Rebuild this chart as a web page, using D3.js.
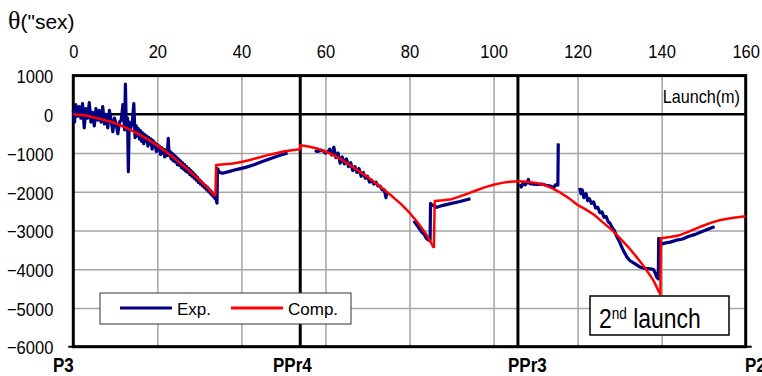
<!DOCTYPE html>
<html lang="en">
<head>
<meta charset="UTF-8">
<title>Launch</title>
<script src="https://d3js.org/d3.v7.min.js"></script>
<style>
  body { margin: 0; background: #fff; }
  text { font-family: "Liberation Sans", Arial, sans-serif; fill: #000; }
</style>
</head>
<body>
<script>

var w = 762, h = 376;

// tick labels
var xTicks = [0, 20, 40, 60, 80, 100, 120, 140, 160];
var yTicks = [1000, 0, -1000, -2000, -3000, -4000, -5000, -6000];

// station markers along the launch
var stations = ["P3", "PPr4", "PPr3", "P2"];
var stationPos = [0, 54, 105.8, 160];

// computed deflection (Comp.), one array per segment
var compX1 = [0, 3, 6, 9, 12, 15, 18, 21, 24, 27, 30, 32, 33.8];
var compY1 = [0, -30, -110, -190, -320, -480, -660, -880, -1130, -1400, -1700, -1900, -2110];
var compX2 = [33.8, 34, 36, 38, 40, 42, 44, 46, 48, 50, 52, 54, 54, 56, 58, 60, 62, 64, 66, 68, 70, 72, 74, 76, 78, 80, 82, 84, 85.8];
var compY2 = [-2110, -1310, -1290, -1270, -1230, -1180, -1120, -1060, -1010, -960, -930, -900, -800, -830, -880, -960, -1060, -1180, -1320, -1470, -1620, -1780, -1950, -2130, -2320, -2540, -2800, -3100, -3450];
var compX3 = [85.8, 86, 88, 90, 92, 94, 96, 98, 100, 102, 104, 105.8, 108, 110, 112, 114, 116, 118, 120, 122, 124, 126, 128, 130, 132, 134, 136, 138, 139.7];
var compY3 = [-3450, -2240, -2220, -2190, -2120, -2040, -1960, -1880, -1820, -1770, -1740, -1727, -1740, -1770, -1820, -1910, -2030, -2170, -2340, -2460, -2600, -2790, -2970, -3190, -3420, -3680, -3960, -4280, -4660];
var compX4 = [139.7, 139.8, 142, 144, 146, 148, 150, 152, 154, 156, 158, 160];
var compY4 = [-4660, -3200, -3170, -3130, -3050, -2960, -2870, -2790, -2730, -2690, -2660, -2630];

// measured deflection (Exp.), one array per segment
var expX1 = [0, 0.3, 0.6, 1, 1.4, 1.8, 2.2, 2.6, 3, 3.4, 3.8, 4.2, 4.6, 5, 5.4, 5.8, 6.2, 6.6, 7, 7.4, 7.8, 8.2, 8.6, 9, 9.4, 9.8, 10.2, 10.6, 11, 11.4, 11.8, 12.2, 12.4, 12.6, 12.9, 13.1, 13.3, 13.7, 14.1, 14.4, 14.7,
    15, 15.25, 15.5, 15.75, 16, 16.25, 16.5, 16.75, 17, 17.25, 17.5, 17.75, 18, 18.25, 18.5, 18.75, 19, 19.25, 19.5, 19.75, 20, 20.25, 20.5, 20.75, 21, 21.25, 21.5, 21.75, 22, 22.25, 22.4, 22.6, 22.8,
    23, 23.25, 23.5, 23.75, 24, 24.25, 24.5, 24.75, 25, 25.25, 25.5, 25.75, 26, 26.25, 26.5, 26.75, 27, 27.25, 27.5, 27.75, 28, 28.25, 28.5, 28.75, 29, 29.25, 29.5, 29.75, 30, 30.25, 30.5, 30.75, 31, 31.25, 31.5, 31.75, 32, 32.25, 32.5, 32.75, 33, 33.25, 33.5, 33.75, 34,
    34.2, 34.3, 34.8, 35.5, 37, 39, 41, 43, 45, 47, 49, 51];
var expY1 = [100, -200, 250, -50, 200, -100, 280, -350, 150, -100, 300, -200, 50, -300, 150, -150, 100, -200, 200, -250, 0, -350, 100, -150, -450, -100, -250, -500, -200, -150, 250, -400, 780, -300, -100, -1480, -200, -350, -150, 280, -600,
    -300, -560, -370, -640, -420, -700, -480, -760, -520, -700, -560, -820, -600, -760, -640, -900, -680, -840, -740, -960, -780, -920, -820, -1040, -860, -1000, -900, -1100, -920, -1060, -960, -620, -1060,
    -950, -1150, -1000, -1200, -1050, -1230, -1100, -1300, -1150, -1320, -1200, -1380, -1250, -1420, -1300, -1470, -1350, -1500, -1400, -1560, -1450, -1600, -1500, -1650, -1560, -1700, -1620, -1760, -1680, -1800, -1740, -1850, -1790, -1900, -1840, -1950, -1890, -2000, -1950, -2060, -2010, -2120, -2080, -2180, -2200,
    -2290, -1400, -1500, -1520, -1480, -1420, -1370, -1300, -1220, -1140, -1060, -1000];
var expX2 = [57.5, 58, 58.5, 59, 59.5, 60, 60.5, 61, 61.5, 62, 62.5, 63, 63.5, 64, 64.5, 65, 65.5, 66, 66.5, 67, 67.5, 68, 68.5, 69, 69.5, 70, 70.5, 71, 71.5, 72, 72.5, 73, 73.5, 74, 74.4, 74.6];
var expY2 = [-930, -960, -950, -930, -940, -1000, -980, -900, -1050, -850, -1120, -1000, -1260, -1100, -1280, -1150, -1350, -1250, -1450, -1350, -1500, -1400, -1600, -1500, -1650, -1600, -1750, -1700, -1800, -1750, -1850, -1850, -1950, -1950, -2150, -2000];
var expX3 = [81, 82, 83, 83.5, 84, 84.5, 84.9, 85, 85.5, 86.5, 88, 90, 92, 94.5];
var expY3 = [-2750, -2900, -3050, -3100, -3200, -3250, -3250, -2300, -2350, -2400, -2350, -2300, -2250, -2180];
var expX4 = [106.3, 106.6, 107, 107.5, 108, 108.3, 108.6, 109.5, 110.5, 111.5, 112.5, 113.5, 114.3, 114.7, 115.3, 115.4];
var expY4 = [-1800, -1880, -1780, -1820, -1760, -1680, -1790, -1800, -1810, -1800, -1830, -1850, -1900, -1820, -1830, -750];
var expX5 = [120.5, 120.8, 121.1, 121.5, 122, 122.4, 122.8, 123.3, 123.8, 124.3, 124.8, 125.3, 125.8, 126.3, 126.8, 127.3, 127.7, 128.2, 128.7, 129.3, 130, 130.8, 131.7, 132.5, 133.5, 134.8, 136, 137.2, 138, 138.5, 138.8, 139.2, 139.3, 139.8, 141, 142, 143.5, 145, 146.5, 148, 149.5, 151, 152.6];
var expY5 = [-1900, -2050, -1950, -2150, -2050, -2230, -2180, -2300, -2260, -2420, -2400, -2540, -2520, -2660, -2640, -2780, -2810, -2920, -2990, -3150, -3300, -3500, -3680, -3780, -3850, -3940, -3980, -3990, -4000, -4100, -4200, -4250, -3200, -3350, -3320, -3300, -3250, -3220, -3150, -3100, -3030, -2970, -2900];

var compSegs = [[compX1, compY1], [compX2, compY2], [compX3, compY3], [compX4, compY4]];
var expSegs = [[expX1, expY1], [expX2, expY2], [expX3, expY3], [expX4, expY4], [expX5, expY5]];

var x = d3.scaleLinear().domain([0, 160]).range([73.3, 745.7]);
var y = d3.scaleLinear().domain([-6000, 1000]).range([346.7, 75.6]);

var svg = d3.select("body").append("svg")
    .attr("width", w)
    .attr("height", h);

// grey grid
svg.append("g")
    .attr("transform", "translate(0," + y(-6000) + ")")
    .call(d3.axisBottom(x).tickValues(xTicks.slice(1, -1)).tickSize(y(1000) - y(-6000)).tickFormat(""))
    .call(function(g) { g.select(".domain").remove(); })
    .selectAll("line").attr("stroke", "#a6a6a6").attr("stroke-width", 1.5)
    .attr("y2", -(y(-6000) - y(1000)));

svg.append("g")
    .attr("transform", "translate(" + x(0) + ",0)")
    .call(d3.axisRight(y).tickValues([-1000, -2000, -3000, -4000, -5000]).tickSize(x(160) - x(0)).tickFormat(""))
    .call(function(g) { g.select(".domain").remove(); })
    .selectAll("line").attr("stroke", "#a6a6a6").attr("stroke-width", 1.5);

// zero line and station lines
svg.append("line")
    .attr("x1", x(0)).attr("x2", x(160))
    .attr("y1", y(0)).attr("y2", y(0))
    .attr("stroke", "#000").attr("stroke-width", 2.5);

svg.selectAll(".station")
    .data(stationPos.slice(1, 3))
    .enter().append("line")
    .attr("x1", function(d) { return x(d); })
    .attr("x2", function(d) { return x(d); })
    .attr("y1", y(1000)).attr("y2", y(-6000))
    .attr("stroke", "#000").attr("stroke-width", 3);

// frame
svg.append("rect")
    .attr("x", x(0)).attr("y", y(1000))
    .attr("width", x(160) - x(0)).attr("height", y(-6000) - y(1000))
    .attr("fill", "none").attr("stroke", "#000").attr("stroke-width", 3);
svg.append("line")
    .attr("x1", x(0) - 5).attr("x2", x(160) + 6)
    .attr("y1", y(-6000)).attr("y2", y(-6000))
    .attr("stroke", "#000").attr("stroke-width", 2);

// top axis labels
var xAx = svg.append("g")
    .attr("transform", "translate(0,58)")
    .call(d3.axisTop(x).tickValues(xTicks).tickSize(0).tickPadding(0).tickFormat(d3.format("d")));
xAx.select(".domain").remove();
xAx.selectAll("text")
    .attr("y", 0).attr("dy", 0)
    .attr("transform", "scale(0.87,1)")
    .style("font-size", "19px").style("font-family", "Liberation Sans, Arial, sans-serif");

// left axis labels
var yAx = svg.append("g")
    .attr("transform", "translate(" + x(0) + ",0)")
    .call(d3.axisLeft(y).tickValues(yTicks).tickSize(0).tickFormat(d3.format("d")));
yAx.select(".domain").remove();
yAx.selectAll("text")
    .attr("x", -20 / 0.87).attr("dy", "0.38em")
    .attr("transform", "scale(0.87,1)")
    .style("font-size", "19px").style("font-family", "Liberation Sans, Arial, sans-serif");

// lines
var line = d3.line()
    .x(function(d) { return x(d[0]); })
    .y(function(d) { return y(d[1]); });

function pairs(seg) {
    return seg[0].map(function(v, i) { return [v, seg[1][i]]; });
}

svg.selectAll(".exp")
    .data(expSegs)
    .enter().append("path")
    .attr("d", function(d) { return line(pairs(d)); })
    .attr("fill", "none")
    .attr("stroke", "#000080")
    .attr("stroke-width", 3.2)
    .attr("stroke-linejoin", "round");

svg.selectAll(".comp")
    .data(compSegs)
    .enter().append("path")
    .attr("d", function(d) { return line(pairs(d)); })
    .attr("fill", "none")
    .attr("stroke", "#ff0000")
    .attr("stroke-width", 2.5)
    .attr("stroke-linejoin", "round");

// station names
var stationX = [53, 273, 508, 745];
svg.selectAll(".stname")
    .data(stations)
    .enter().append("text")
    .attr("transform", function(d, i) { return "translate(" + stationX[i] + ",372) scale(0.85,1)"; })
    .style("font-size", "20px")
    .style("font-weight", "bold")
    .text(function(d) { return d; });

// axis title
var title = svg.append("text").attr("x", 8).attr("y", 29).style("font-size", "21px");
title.append("tspan").style("font-family", "Liberation Serif, serif").style("font-size", "26px").text("θ");
title.append("tspan").text("(\"sex)");

svg.append("text")
    .attr("transform", "translate(740,103) scale(0.9,1)")
    .attr("text-anchor", "end")
    .style("font-size", "18px")
    .text("Launch(m)");

// legend
var leg = svg.append("g");
leg.append("rect")
    .attr("x", 100).attr("y", 293).attr("width", 251).attr("height", 31)
    .attr("fill", "#fff").attr("stroke", "#333").attr("stroke-width", 1);
leg.append("line").attr("x1", 120).attr("x2", 172).attr("y1", 308).attr("y2", 308)
    .attr("stroke", "#000080").attr("stroke-width", 3);
leg.append("text").attr("x", 177).attr("y", 315).style("font-size", "17px").text("Exp.");
leg.append("line").attr("x1", 231).attr("x2", 283).attr("y1", 308).attr("y2", 308)
    .attr("stroke", "#ff0000").attr("stroke-width", 3);
leg.append("text").attr("x", 288).attr("y", 315).style("font-size", "17px").text("Comp.");

// launch note
svg.append("rect")
    .attr("x", 590).attr("y", 296).attr("width", 139).attr("height", 39)
    .attr("fill", "#fff").attr("stroke", "#000").attr("stroke-width", 1.5);
var note = svg.append("text")
    .attr("transform", "translate(599,328) scale(0.85,1)")
    .style("font-size", "27px");
note.append("tspan").text("2");
note.append("tspan").attr("dy", -9).style("font-size", "16px").text("nd");
note.append("tspan").attr("dy", 9).text(" launch");

</script>
</body>
</html>
